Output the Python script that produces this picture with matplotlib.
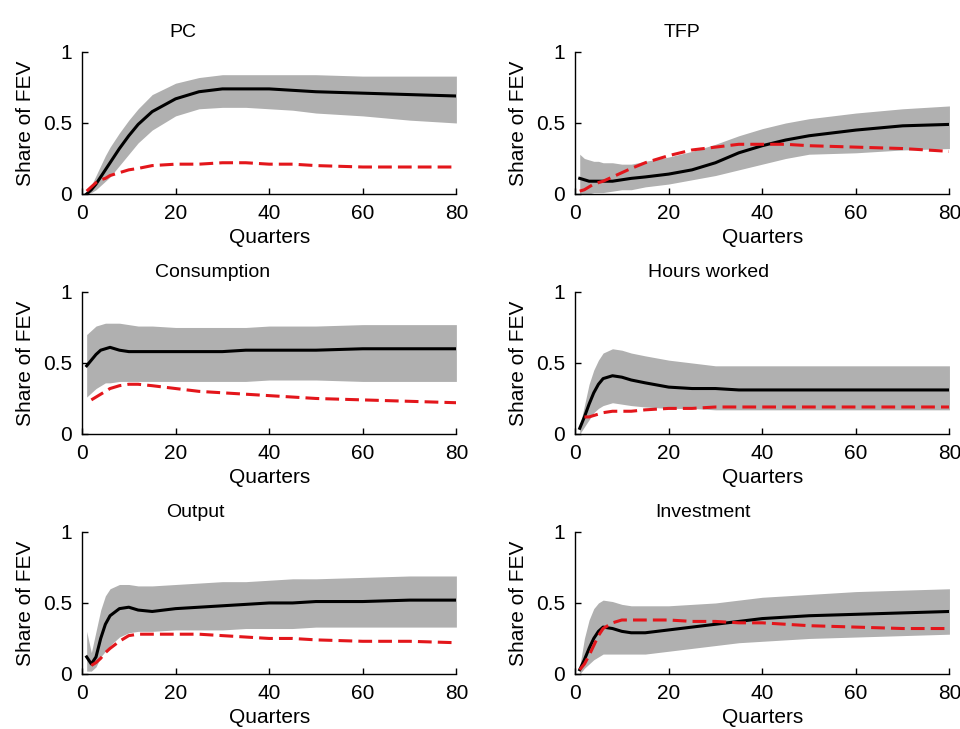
import numpy as np
import matplotlib
matplotlib.use("Agg")
import matplotlib.pyplot as plt

plt.rcParams['font.family'] = ['Liberation Sans', 'DejaVu Sans']

quarters = [1, 2, 3, 4, 5, 6, 8, 10, 12, 15, 20, 25, 30, 35, 40, 45, 50, 60, 70, 80]
nan = np.nan

titles = ["PC", "TFP", "Consumption", "Hours worked", "Output", "Investment"]

pc_med = [0.00, 0.03, 0.07, 0.12, 0.17, 0.22, 0.32, 0.41, 0.49, 0.58, 0.67, 0.72, 0.74, 0.74, 0.74, 0.73, 0.72, 0.71, 0.70, 0.69]
pc_hi  = [0.00, 0.06, 0.13, 0.20, 0.27, 0.33, 0.43, 0.52, 0.60, 0.70, 0.78, 0.82, 0.84, 0.84, 0.84, 0.84, 0.84, 0.83, 0.83, 0.83]
pc_lo  = [0.00, 0.01, 0.03, 0.06, 0.09, 0.12, 0.20, 0.28, 0.36, 0.45, 0.55, 0.60, 0.61, 0.61, 0.60, 0.59, 0.57, 0.55, 0.52, 0.50]
pc_red = [0.02, 0.05, 0.08, 0.10, 0.11, 0.13, 0.15, 0.17, 0.18, 0.20, 0.21, 0.21, 0.22, 0.22, 0.21, 0.21, 0.20, 0.19, 0.19, 0.19]

tfp_med = [0.11, 0.10, 0.09, 0.09, 0.09, 0.09, 0.09, 0.10, 0.11, 0.12, 0.14, 0.17, 0.22, 0.29, 0.34, 0.38, 0.41, 0.45, 0.48, 0.49]
tfp_hi  = [0.28, 0.25, 0.24, 0.23, 0.23, 0.22, 0.22, 0.21, 0.21, 0.23, 0.26, 0.30, 0.35, 0.41, 0.46, 0.50, 0.53, 0.57, 0.60, 0.62]
tfp_lo  = [0.00, 0.00, 0.00, 0.01, 0.01, 0.01, 0.02, 0.03, 0.03, 0.05, 0.07, 0.10, 0.13, 0.17, 0.21, 0.25, 0.28, 0.29, 0.31, 0.32]
tfp_red = [0.02, 0.03, 0.05, 0.07, 0.08, 0.09, 0.12, 0.15, 0.18, 0.22, 0.27, 0.31, 0.33, 0.35, 0.35, 0.35, 0.34, 0.33, 0.32, 0.30]

cons_med = [0.48, 0.52, 0.56, 0.59, 0.60, 0.61, 0.59, 0.58, 0.58, 0.58, 0.58, 0.58, 0.58, 0.59, 0.59, 0.59, 0.59, 0.60, 0.60, 0.60]
cons_hi  = [0.70, 0.73, 0.76, 0.77, 0.78, 0.78, 0.78, 0.77, 0.76, 0.76, 0.75, 0.75, 0.75, 0.75, 0.76, 0.76, 0.76, 0.77, 0.77, 0.77]
cons_lo  = [0.26, 0.29, 0.32, 0.34, 0.36, 0.36, 0.37, 0.37, 0.37, 0.37, 0.37, 0.37, 0.37, 0.37, 0.38, 0.38, 0.38, 0.37, 0.37, 0.37]
cons_red = [nan, 0.24, 0.26, 0.28, 0.30, 0.32, 0.34, 0.35, 0.35, 0.34, 0.32, 0.30, 0.29, 0.28, 0.27, 0.26, 0.25, 0.24, 0.23, 0.22]

hours_med = [0.04, 0.12, 0.21, 0.29, 0.35, 0.39, 0.41, 0.40, 0.38, 0.36, 0.33, 0.32, 0.32, 0.31, 0.31, 0.31, 0.31, 0.31, 0.31, 0.31]
hours_hi  = [0.05, 0.20, 0.35, 0.45, 0.52, 0.57, 0.60, 0.59, 0.57, 0.55, 0.52, 0.50, 0.48, 0.48, 0.48, 0.48, 0.48, 0.48, 0.48, 0.48]
hours_lo  = [0.00, 0.05, 0.10, 0.15, 0.18, 0.20, 0.22, 0.21, 0.20, 0.19, 0.18, 0.18, 0.17, 0.17, 0.17, 0.17, 0.17, 0.17, 0.17, 0.17]
hours_red = [nan, 0.12, 0.12, 0.13, 0.14, 0.15, 0.16, 0.16, 0.16, 0.17, 0.18, 0.18, 0.19, 0.19, 0.19, 0.19, 0.19, 0.19, 0.19, 0.19]

out_med = [0.12, 0.07, 0.12, 0.25, 0.35, 0.41, 0.46, 0.47, 0.45, 0.44, 0.46, 0.47, 0.48, 0.49, 0.50, 0.50, 0.51, 0.51, 0.52, 0.52]
out_hi  = [0.30, 0.15, 0.30, 0.45, 0.55, 0.60, 0.63, 0.63, 0.62, 0.62, 0.63, 0.64, 0.65, 0.65, 0.66, 0.67, 0.67, 0.68, 0.69, 0.69]
out_lo  = [0.02, 0.02, 0.05, 0.12, 0.16, 0.20, 0.26, 0.29, 0.30, 0.30, 0.31, 0.31, 0.31, 0.32, 0.32, 0.32, 0.33, 0.33, 0.33, 0.33]
out_red = [nan, 0.06, 0.08, 0.11, 0.15, 0.18, 0.23, 0.27, 0.28, 0.28, 0.28, 0.28, 0.27, 0.26, 0.25, 0.25, 0.24, 0.23, 0.23, 0.22]

inv_med = [0.03, 0.10, 0.18, 0.25, 0.30, 0.33, 0.32, 0.30, 0.29, 0.29, 0.31, 0.33, 0.35, 0.37, 0.39, 0.40, 0.41, 0.42, 0.43, 0.44]
inv_hi  = [0.05, 0.25, 0.38, 0.46, 0.50, 0.52, 0.51, 0.49, 0.48, 0.48, 0.48, 0.49, 0.50, 0.52, 0.54, 0.55, 0.56, 0.58, 0.59, 0.60]
inv_lo  = [0.00, 0.04, 0.07, 0.10, 0.12, 0.14, 0.14, 0.14, 0.14, 0.14, 0.16, 0.18, 0.20, 0.22, 0.23, 0.24, 0.25, 0.26, 0.27, 0.28]
inv_red = [0.03, 0.07, 0.13, 0.20, 0.27, 0.32, 0.36, 0.38, 0.38, 0.38, 0.38, 0.37, 0.37, 0.36, 0.36, 0.35, 0.34, 0.33, 0.32, 0.32]

panels = [
    (pc_med, pc_lo, pc_hi, pc_red),
    (tfp_med, tfp_lo, tfp_hi, tfp_red),
    (cons_med, cons_lo, cons_hi, cons_red),
    (hours_med, hours_lo, hours_hi, hours_red),
    (out_med, out_lo, out_hi, out_red),
    (inv_med, inv_lo, inv_hi, inv_red),
]
title_x = [0.27, 0.285, 0.348, 0.357, 0.302, 0.341]

xticks = [0, 20, 40, 60, 80]
yticks = [0, 0.5, 1]
ytick_labels = ["0", "0.5", "1"]

fig = plt.figure(figsize=(9.6, 7.29), dpi=100)
lefts = [0.0854, 0.599]
bottoms = [0.7339, 0.4047, 0.0755]
W, H = 0.390, 0.1948

for i, (med, lo, hi, red) in enumerate(panels):
    r, c = divmod(i, 2)
    ax = fig.add_axes([lefts[c], bottoms[r], W, H])
    ax.fill_between(quarters, lo, hi, color='#b0b0b0', linewidth=0)
    ax.plot(quarters, med, color='black', linewidth=2.2)
    ax.plot(quarters, red, color='#e3161b', linewidth=2.2, linestyle=(0, (4.5, 2.0)))
    ax.set_xlim(0, 80)
    ax.set_ylim(0, 1)
    ax.set_xticks(xticks)
    ax.set_yticks(yticks)
    ax.set_yticklabels(ytick_labels)
    ax.spines['top'].set_visible(False)
    ax.spines['right'].set_visible(False)
    for s in ['left', 'bottom']:
        ax.spines[s].set_linewidth(1.0)
    ax.tick_params(direction='in', length=4, width=1.0, labelsize=15, pad=7)
    ax.set_xlabel("Quarters", fontsize=15, labelpad=4)
    ax.set_ylabel("Share of FEV", fontsize=15, labelpad=6)
    ax.text(title_x[i], 1.105, titles[i], transform=ax.transAxes,
            ha='center', va='baseline', fontsize=14)

fig.savefig("out.png", dpi=100)
